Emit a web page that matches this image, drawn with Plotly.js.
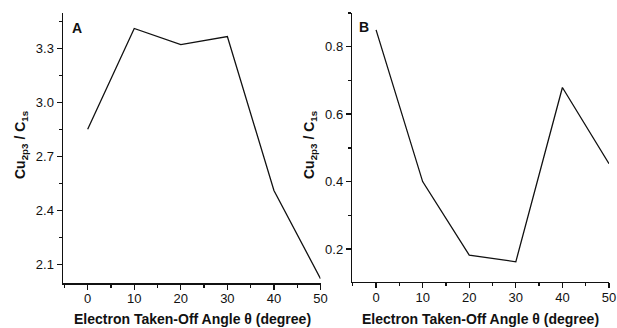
<!DOCTYPE html>
<html><head><meta charset="utf-8">
<script src="https://cdn.plot.ly/plotly-3.0.1.min.js"></script>
<style>html,body{margin:0;padding:0;background:#fff}#plot{width:617px;height:328px}</style>
</head><body><div id="plot"></div>
<script>
const angles = [0, 10, 20, 30, 40, 50];
const ratioA = [2.85, 3.41, 3.32, 3.365, 2.51, 2.02];
const ratioB = [0.85, 0.40, 0.182, 0.162, 0.679, 0.453];
const xTitle = 'Electron Taken-Off Angle θ (degree)';
const yTitle = 'Cu<sub>2p3</sub> / C<sub>1s</sub>';
const panelLabels = ['A', 'B'];

const W = 617, H = 328;
const fam = 'Liberation Sans, Arial, sans-serif';
const tickFont = {family: fam, size: 13, color: '#111'};
const titleFont = {family: fam, size: 14, color: '#111'};
const line = {color: '#111', width: 1.3};

const axBase = {
  showline: true, linecolor: '#111', linewidth: 1.5, mirror: false,
  ticks: 'outside', ticklen: 5, tickwidth: 1.3, tickcolor: '#111',
  showgrid: false, zeroline: false, tickfont: tickFont, fixedrange: true
};

const traces = [
  {x: angles, y: ratioA, type: 'scatter', mode: 'lines', line: line, xaxis: 'x', yaxis: 'y', hoverinfo: 'none'},
  {x: angles, y: ratioB, type: 'scatter', mode: 'lines', line: line, xaxis: 'x2', yaxis: 'y2', hoverinfo: 'none'}
];

const layout = {
  width: W, height: H,
  margin: {l: 0, r: 0, t: 0, b: 0},
  paper_bgcolor: '#fff', plot_bgcolor: '#fff',
  showlegend: false,
  font: tickFont,
  xaxis: Object.assign({}, axBase, {domain: [63/W, 320.5/W], range: [-5.3, 50], anchor: 'y', ticklabelstandoff: -2,
    tickvals: [0,10,20,30,40,50], minor: {dtick: 5, tick0: 0, ticklen: 3, tickcolor: '#111', ticks: 'outside'}}),
  yaxis: Object.assign({}, axBase, {domain: [(H-283)/H, (H-13)/H], range: [1.996, 3.496], anchor: 'x',
    tickvals: [2.1, 2.4, 2.7, 3.0, 3.3], ticktext: ['2.1','2.4','2.7','3.0','3.3'],
    minor: {dtick: 0.15, tick0: 2.1, ticklen: 3, tickcolor: '#111', ticks: 'outside'}}),
  xaxis2: Object.assign({}, axBase, {domain: [352.3/W, 609/W], range: [-5.1, 50], anchor: 'y2', ticklabelstandoff: -2,
    tickvals: [0,10,20,30,40,50], minor: {dtick: 5, tick0: 0, ticklen: 3, tickcolor: '#111', ticks: 'outside'}}),
  yaxis2: Object.assign({}, axBase, {domain: [(H-281.7)/H, (H-13)/H], range: [0.103, 0.9], anchor: 'x2',
    tickvals: [0.2, 0.4, 0.6, 0.8], ticktext: ['0.2','0.4','0.6','0.8'],
    minor: {dtick: 0.1, tick0: 0.2, ticklen: 3, tickcolor: '#111', ticks: 'outside'}}),
  annotations: [
    {text: '<b>' + panelLabels[0] + '</b>', xref: 'paper', yref: 'paper', x: 70/W, y: (H-28)/H, xanchor: 'left', yanchor: 'middle', showarrow: false, font: titleFont},
    {text: '<b>' + panelLabels[1] + '</b>', xref: 'paper', yref: 'paper', x: 357/W, y: (H-27)/H, xanchor: 'left', yanchor: 'middle', showarrow: false, font: titleFont},
    {text: '<b>' + xTitle + '</b>', xref: 'paper', yref: 'paper', x: 192/W, y: (H-319)/H, xanchor: 'center', yanchor: 'middle', showarrow: false, font: titleFont},
    {text: '<b>' + xTitle + '</b>', xref: 'paper', yref: 'paper', x: 481/W, y: (H-319)/H, xanchor: 'center', yanchor: 'middle', showarrow: false, font: titleFont},
    {text: '<b>' + yTitle + '</b>', xref: 'paper', yref: 'paper', x: 21/W, y: (H-144)/H, xanchor: 'center', yanchor: 'middle', textangle: -90, showarrow: false, font: titleFont},
    {text: '<b>' + yTitle + '</b>', xref: 'paper', yref: 'paper', x: 310/W, y: (H-145)/H, xanchor: 'center', yanchor: 'middle', textangle: -90, showarrow: false, font: titleFont}
  ]
};

Plotly.newPlot('plot', traces, layout, {staticPlot: true, displayModeBar: false});
</script></body></html>
